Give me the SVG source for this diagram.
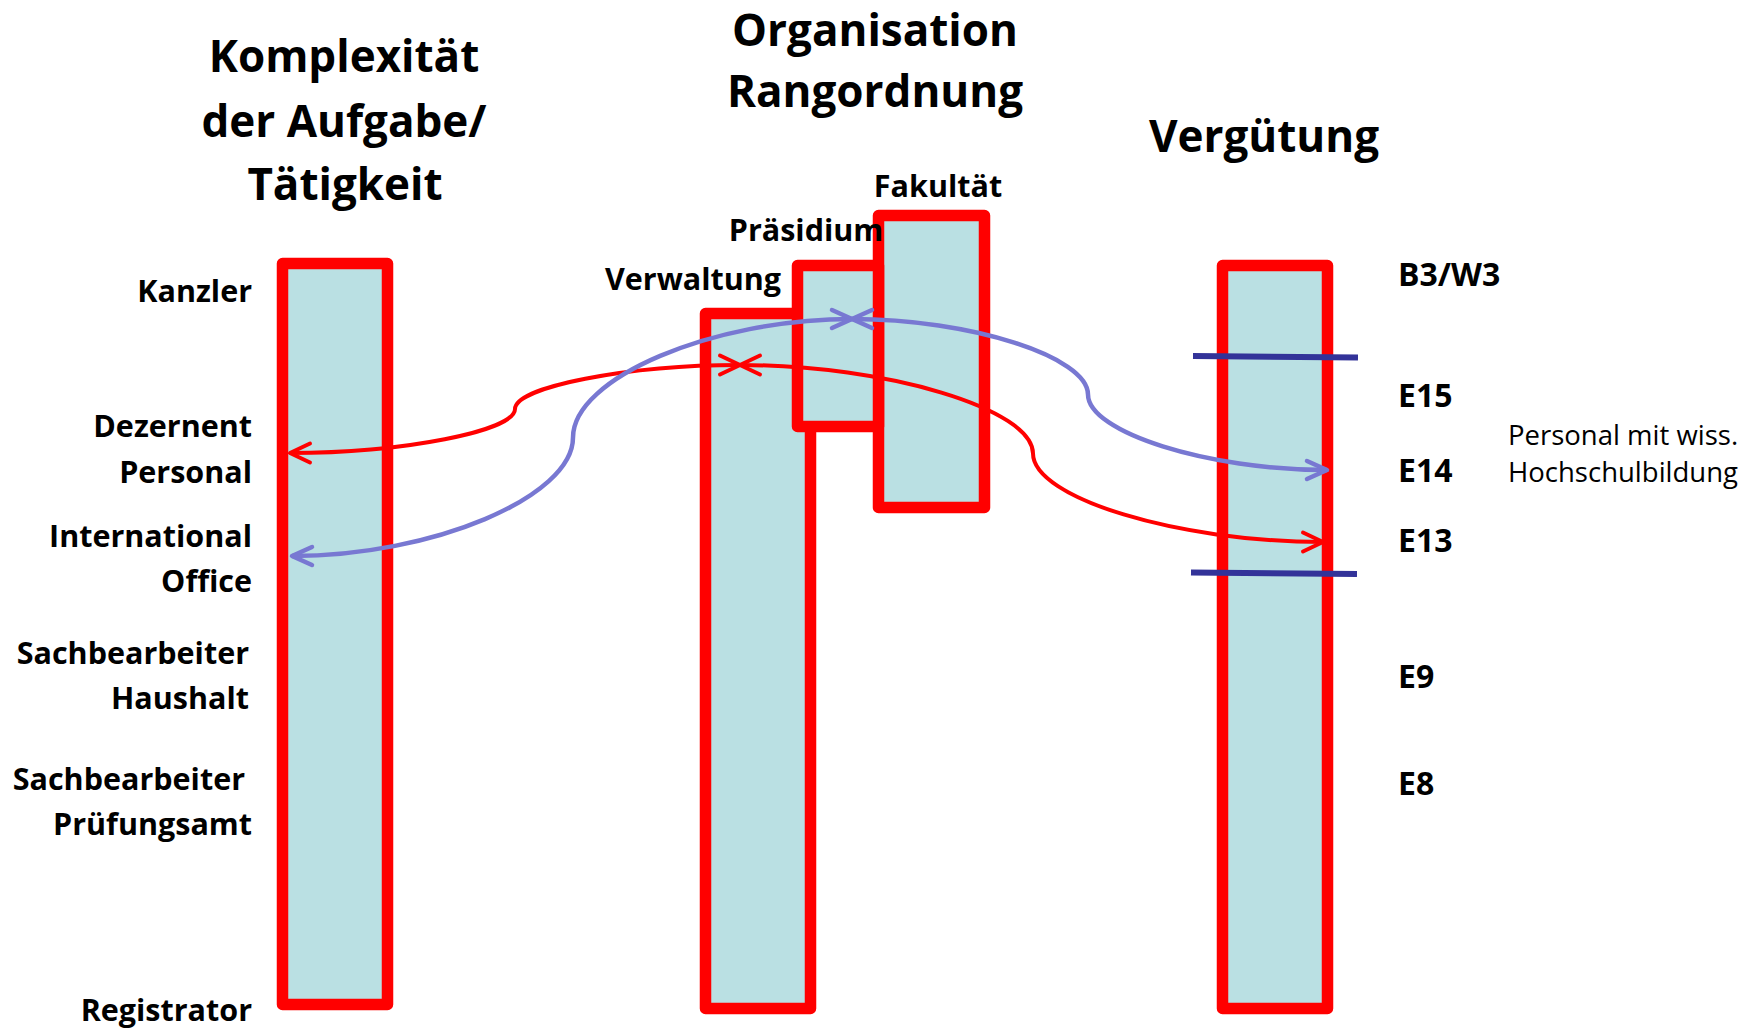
<svg xmlns="http://www.w3.org/2000/svg" width="1752" height="1030" viewBox="0 0 1752 1030">
<style>
  .bar { fill: #BAE0E3; stroke: #FF0000; stroke-width: 11.5; stroke-linejoin: round; }
  .t { font-family: "Open Sans", "Liberation Sans", sans-serif; font-weight: 700; fill: #000; }
  .title { font-size: 44px; text-anchor: middle; }
  .lbl { font-size: 30.5px; text-anchor: end; }
  .rl { font-size: 32px; text-anchor: start; }
  .col { font-size: 30.5px; text-anchor: middle; }
  .reg { font-family: "Open Sans", "Liberation Sans", sans-serif; font-weight: 400; font-size: 27.5px; fill: #000; }
  .cr { fill: none; stroke: #FF0000; stroke-width: 4; }
  .cb { fill: none; stroke: #7878D2; stroke-width: 4.5; }
  .tick { stroke: #333399; stroke-width: 6; }
</style>
<defs>
  <marker id="arR" viewBox="-25 -15 30 30" refX="0" refY="0" markerWidth="30" markerHeight="30" markerUnits="userSpaceOnUse" orient="auto-start-reverse" overflow="visible">
    <path d="M-20,-9.5 L0,0 L-20,9.5" fill="none" stroke="#FF0000" stroke-width="4" stroke-linecap="round" stroke-linejoin="round"/>
  </marker>
  <marker id="arB" viewBox="-25 -15 30 30" refX="0" refY="0" markerWidth="30" markerHeight="30" markerUnits="userSpaceOnUse" orient="auto-start-reverse" overflow="visible">
    <path d="M-20,-9 L0,0 L-20,9" fill="none" stroke="#7878D2" stroke-width="4.5" stroke-linecap="round" stroke-linejoin="round"/>
  </marker>
</defs>
<rect width="1752" height="1030" fill="#FFFFFF"/>

<g id="titles">
  <text class="t title" x="344" y="72">Komplexität</text>
  <text class="t title" x="344" y="136.5">der Aufgabe/</text>
  <text class="t title" x="345" y="200">Tätigkeit</text>
  <text class="t title" x="875" y="46">Organisation</text>
  <text class="t title" x="875" y="107">Rangordnung</text>
  <text class="t title" x="1264" y="152">Vergütung</text>
</g>

<g id="node-komplexitaet">
  <rect class="bar" x="282.5" y="263.5" width="105" height="741"/>
  <text class="t lbl" x="252" y="302">Kanzler</text>
  <text class="t lbl" x="252" y="437">Dezernent</text>
  <text class="t lbl" x="252" y="483">Personal</text>
  <text class="t lbl" x="252" y="547">International</text>
  <text class="t lbl" x="252" y="592">Office</text>
  <text class="t lbl" x="249" y="664">Sachbearbeiter</text>
  <text class="t lbl" x="249" y="709">Haushalt</text>
  <text class="t lbl" x="245" y="790">Sachbearbeiter</text>
  <text class="t lbl" x="252" y="835">Prüfungsamt</text>
  <text class="t lbl" x="252" y="1021">Registrator</text>
</g>

<g id="node-verwaltung">
  <rect class="bar" x="705.5" y="313.5" width="105" height="695"/>
  <text class="t col" x="693" y="290">Verwaltung</text>
</g>
<g id="node-fakultaet">
  <rect class="bar" x="878.5" y="215.5" width="106" height="292"/>
  <text class="t col" x="938" y="197">Fakultät</text>
</g>
<g id="node-praesidium">
  <rect class="bar" x="797.5" y="265.5" width="81" height="161"/>
  <text class="t col" x="806" y="241">Präsidium</text>
</g>

<g id="node-verguetung">
  <rect class="bar" x="1222.5" y="265.5" width="105" height="743"/>
  <line class="tick" x1="1193" y1="356" x2="1358" y2="357.5"/>
  <line class="tick" x1="1191" y1="572.5" x2="1357" y2="574"/>
  <text class="t rl" x="1398" y="286">B3/W3</text>
  <text class="t rl" x="1398" y="407">E15</text>
  <text class="t rl" x="1398" y="482">E14</text>
  <text class="t rl" x="1398" y="552">E13</text>
  <text class="t rl" x="1398" y="688">E9</text>
  <text class="t rl" x="1398" y="795">E8</text>
  <text class="reg" x="1508" y="445">Personal mit wiss.</text>
  <text class="reg" x="1508" y="482">Hochschulbildung</text>
</g>

<g id="connectors">
  <path class="cr" marker-start="url(#arR)" marker-end="url(#arR)" d="M740,365 C627.5,365 515,387 515,409 C515,431 402.5,453 290,453"/>
  <path class="cr" marker-start="url(#arR)" marker-end="url(#arR)" d="M740,365 C886.5,365 1033,409 1033,453.5 C1033,498 1178,542 1323,542"/>
  <path class="cb" marker-start="url(#arB)" marker-end="url(#arB)" d="M852,319 C712.5,319 573,378 573,437.5 C573,497 432,556 292,556"/>
  <path class="cb" marker-start="url(#arB)" marker-end="url(#arB)" d="M852,319 C970,319 1088,356.75 1088,394.5 C1088,432.25 1207.5,470 1327,470"/>
</g>
</svg>
